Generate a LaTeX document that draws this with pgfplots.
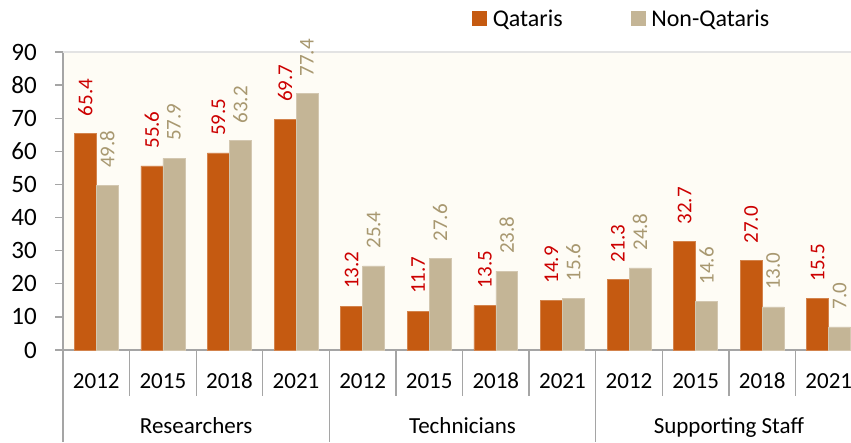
\documentclass[border=0pt]{standalone}
\usepackage{fontspec}
\setmainfont{Carlito}
\usepackage{pgfplots}
\pgfplotsset{compat=1.18}
\definecolor{qat}{RGB}{197,90,17}
\definecolor{nqat}{RGB}{196,181,150}
\definecolor{qlab}{RGB}{204,0,0}
\definecolor{nqlab}{RGB}{168,152,112}
\definecolor{bgc}{RGB}{254,252,245}
\definecolor{axg}{RGB}{165,165,165}
\newcommand\fs[1]{\fontsize{#1}{#1}\selectfont}

\begin{document}
\begin{tikzpicture}
\useasboundingbox (0,0) rectangle (851pt,442pt);
\clip (0,0) rectangle (851pt,442pt);
\begin{axis}[
  at={(63pt,92pt)}, anchor=south west,
  scale only axis, width=788pt, height=298pt,
  xmin=-0.5, xmax=11.334, ymin=0, ymax=90,
  axis x line*=bottom, axis y line*=left,
  axis line style={axg, line width=1.3pt, -},
  axis background/.style={fill=bgc},
  ytick={0,10,...,90},
  xtick={0,...,11},
  xticklabels={2012,2015,2018,2021,2012,2015,2018,2021,2012,2015,2018,2021},
  xtick style={draw=none},
  ytick style={axg, line width=1.3pt},
  tick align=outside, major tick length=8pt,
  /pgf/number format/assume math mode=true,
  yticklabel style={font=\fs{25}, anchor=east, inner sep=0pt, xshift=-18pt},
  xticklabel style={font=\fs{23}, anchor=base, inner sep=0pt, yshift=-30pt},
  ybar, bar width=0.33,
  nodes near coords={\pgfmathprintnumber[fixed,fixed zerofill,precision=1]{\pgfplotspointmeta}},
  every node near coord/.append style={font=\fs{21}, rotate=90, anchor=west, inner xsep=17pt, inner ysep=0pt},
  clip=false,
  legend columns=2,
  legend style={draw=none, fill=none, at={(0.519,1.1124)}, anchor=west, inner sep=0pt,
    font=\fs{24}, nodes={inner sep=0pt},
    /tikz/every odd column/.append style={column sep=6pt},
    /tikz/every even column/.append style={column sep=68pt}},
]
\addplot[fill=qat, draw=qat!75!white, line width=0.6pt, bar shift=-0.165,
  every node near coord/.append style={qlab},
  legend image code/.code={\fill[qat] (0pt,-7pt) rectangle (14pt,7pt);}]
  coordinates {(0,65.4) (1,55.6) (2,59.5) (3,69.7)
               (4,13.2) (5,11.7) (6,13.5) (7,14.9)
               (8,21.3) (9,32.7) (10,27.0) (11,15.5)};
\addlegendentry{Qataris}
\addplot[fill=nqat, draw=nqat!75!white, line width=0.6pt, bar shift=0.165,
  every node near coord/.append style={nqlab},
  legend image code/.code={\fill[nqat] (0pt,-7pt) rectangle (14pt,7pt);}]
  coordinates {(0,49.8) (1,57.9) (2,63.2) (3,77.4)
               (4,25.4) (5,27.6) (6,23.8) (7,15.6)
               (8,24.8) (9,14.6) (10,13.0) (11,7.0)};
\addlegendentry{Non-Qataris}
\draw[gray!22, line width=1.5pt] (axis description cs:0,1) -- (axis description cs:1,1);
\draw[axg, line width=1.3pt] (axis cs:-0.5,0) -- ([yshift=-92pt]axis cs:-0.5,0);
\draw[axg, line width=1.3pt] (axis cs:3.5,0) -- ([yshift=-92pt]axis cs:3.5,0);
\draw[axg, line width=1.3pt] (axis cs:7.5,0) -- ([yshift=-92pt]axis cs:7.5,0);
\draw[axg, line width=1.3pt] (axis cs:0.5,0) -- ([yshift=-46pt]axis cs:0.5,0);
\draw[axg, line width=1.3pt] (axis cs:1.5,0) -- ([yshift=-46pt]axis cs:1.5,0);
\draw[axg, line width=1.3pt] (axis cs:2.5,0) -- ([yshift=-46pt]axis cs:2.5,0);
\draw[axg, line width=1.3pt] (axis cs:4.5,0) -- ([yshift=-46pt]axis cs:4.5,0);
\draw[axg, line width=1.3pt] (axis cs:5.5,0) -- ([yshift=-46pt]axis cs:5.5,0);
\draw[axg, line width=1.3pt] (axis cs:6.5,0) -- ([yshift=-46pt]axis cs:6.5,0);
\draw[axg, line width=1.3pt] (axis cs:8.5,0) -- ([yshift=-46pt]axis cs:8.5,0);
\draw[axg, line width=1.3pt] (axis cs:9.5,0) -- ([yshift=-46pt]axis cs:9.5,0);
\draw[axg, line width=1.3pt] (axis cs:10.5,0) -- ([yshift=-46pt]axis cs:10.5,0);
\node[font=\fs{23}, anchor=base, inner sep=0pt] at ([yshift=-83pt]axis cs:1.5,0) {Researchers};
\node[font=\fs{23}, anchor=base, inner sep=0pt] at ([yshift=-83pt]axis cs:5.5,0) {Technicians};
\node[font=\fs{23}, anchor=base, inner sep=0pt] at ([yshift=-83pt]axis cs:9.5,0) {Supporting Staff};
\end{axis}
\end{tikzpicture}
\end{document}
